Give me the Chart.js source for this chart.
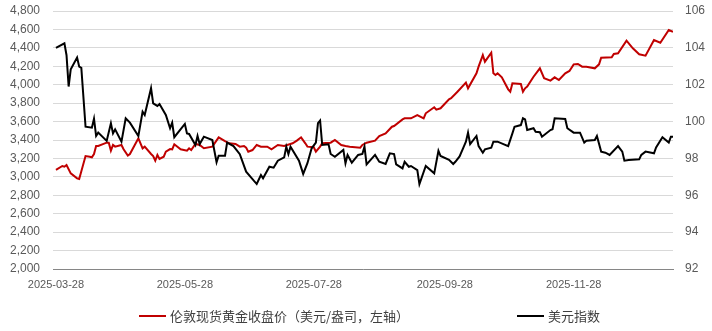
<!DOCTYPE html>
<html>
<head>
    <meta charset="utf-8">
    <title>伦敦金与美元指数</title>
    <script src="https://cdn.jsdelivr.net/npm/chart.js"></script>
    <style>
        body { margin: 0; background: #fff; }
        #wrap { position: relative; width: 712px; height: 331px; }
        #legend { position: absolute; left: 0; top: 307px; width: 712px; height: 20px;
                  font: 13px "Noto Sans CJK SC", sans-serif; color: #404040; }
        .item { position: absolute; top: 0; white-space: nowrap; line-height: 18px; }
        .swatch { display: inline-block; width: 27px; height: 2px; vertical-align: middle; margin-right: 4px; position: relative; top: -1px; }
    </style>
</head>
<body>
<div id="wrap">
    <canvas id="chart"></canvas>
    <div id="legend"></div>
</div>
<script>
    const seriesNames = ['伦敦现货黄金收盘价（美元/盎司，左轴）', '美元指数'];
    const xTickDates = ['2025-03-28', '2025-05-28', '2025-07-28', '2025-09-28', '2025-11-28'];

    const goldDates = [
        '2025-03-28', '2025-03-31', '2025-04-01', '2025-04-02', '2025-04-04', '2025-04-07', '2025-04-08',
        '2025-04-11', '2025-04-13', '2025-04-14', '2025-04-15', '2025-04-16', '2025-04-17', '2025-04-21',
        '2025-04-22', '2025-04-23', '2025-04-24', '2025-04-25', '2025-04-28', '2025-04-29', '2025-05-01',
        '2025-05-02', '2025-05-06', '2025-05-08', '2025-05-09', '2025-05-12', '2025-05-13', '2025-05-14',
        '2025-05-15', '2025-05-16', '2025-05-18', '2025-05-19', '2025-05-21', '2025-05-22', '2025-05-23',
        '2025-05-26', '2025-05-29', '2025-05-30', '2025-05-31', '2025-06-02', '2025-06-04', '2025-06-06',
        '2025-06-10', '2025-06-13', '2025-06-16', '2025-06-18', '2025-06-21', '2025-06-23', '2025-06-25',
        '2025-06-26', '2025-06-27', '2025-06-29', '2025-07-01', '2025-07-03', '2025-07-06', '2025-07-08',
        '2025-07-11', '2025-07-14', '2025-07-18', '2025-07-20', '2025-07-22', '2025-07-24', '2025-07-25',
        '2025-07-28', '2025-07-29', '2025-07-31', '2025-08-01', '2025-08-05', '2025-08-07', '2025-08-10',
        '2025-08-12', '2025-08-14', '2025-08-19', '2025-08-20', '2025-08-22', '2025-08-26', '2025-08-28',
        '2025-08-31', '2025-09-03', '2025-09-04', '2025-09-08', '2025-09-09', '2025-09-12', '2025-09-15',
        '2025-09-18', '2025-09-19', '2025-09-23', '2025-09-24', '2025-09-26', '2025-09-30', '2025-10-01',
        '2025-10-04', '2025-10-08', '2025-10-09', '2025-10-13', '2025-10-14', '2025-10-16', '2025-10-17',
        '2025-10-20', '2025-10-21', '2025-10-22', '2025-10-23', '2025-10-25', '2025-10-28', '2025-10-29',
        '2025-10-30', '2025-11-03', '2025-11-04', '2025-11-05', '2025-11-06', '2025-11-09', '2025-11-12',
        '2025-11-14', '2025-11-17', '2025-11-19', '2025-11-21', '2025-11-24', '2025-11-26', '2025-11-28',
        '2025-11-30', '2025-12-02', '2025-12-04', '2025-12-08', '2025-12-10', '2025-12-11', '2025-12-16',
        '2025-12-17', '2025-12-19', '2025-12-23', '2025-12-26', '2025-12-29', '2026-01-01', '2026-01-05',
        '2026-01-08', '2026-01-12', '2026-01-14'
    ];
    const goldValues = [
        3075, 3118, 3110, 3129, 3038, 2984, 2977,
        3226, 3219, 3212, 3248, 3335, 3335, 3371,
        3371, 3284, 3346, 3328, 3346, 3299, 3230,
        3248, 3418, 3310, 3328, 3248, 3226, 3175,
        3237, 3194, 3219, 3273, 3302, 3299, 3353,
        3299, 3284, 3310, 3291, 3357, 3346, 3310,
        3328, 3429, 3389, 3364, 3357, 3328, 3335,
        3317, 3273, 3291, 3346, 3328, 3328, 3299,
        3346, 3335, 3364, 3393, 3429, 3364, 3328,
        3321, 3273, 3328, 3364, 3371, 3400, 3346,
        3335, 3328, 3317, 3346, 3371, 3393, 3443,
        3472, 3544, 3552, 3624, 3635, 3635, 3671,
        3635, 3690, 3755, 3730, 3744, 3842, 3853,
        3924, 4022, 3961, 4124, 4196, 4322, 4250,
        4348, 4124, 4105, 4124, 4080, 3950, 3924,
        4015, 4008, 3924, 3961, 3979, 4087, 4178,
        4070, 4044, 4080, 4051, 4124, 4149, 4221,
        4225, 4196, 4196, 4178, 4221, 4293, 4297,
        4333, 4341, 4478, 4395, 4330, 4315, 4485,
        4456, 4594, 4575
    ];

    const dxyDates = [
        '2025-03-28', '2025-04-01', '2025-04-02', '2025-04-03', '2025-04-04', '2025-04-07', '2025-04-08',
        '2025-04-09', '2025-04-11', '2025-04-14', '2025-04-15', '2025-04-16', '2025-04-17', '2025-04-21',
        '2025-04-23', '2025-04-24', '2025-04-25', '2025-04-28', '2025-04-30', '2025-05-02', '2025-05-06',
        '2025-05-08', '2025-05-09', '2025-05-12', '2025-05-13', '2025-05-15', '2025-05-16', '2025-05-19',
        '2025-05-21', '2025-05-22', '2025-05-23', '2025-05-28', '2025-05-29', '2025-05-30', '2025-06-02',
        '2025-06-03', '2025-06-04', '2025-06-06', '2025-06-10', '2025-06-12', '2025-06-13', '2025-06-16',
        '2025-06-17', '2025-06-20', '2025-06-23', '2025-06-26', '2025-07-01', '2025-07-03', '2025-07-04',
        '2025-07-07', '2025-07-09', '2025-07-11', '2025-07-14', '2025-07-15', '2025-07-16', '2025-07-17',
        '2025-07-21', '2025-07-23', '2025-07-25', '2025-07-27', '2025-07-29', '2025-07-30', '2025-07-31',
        '2025-08-01', '2025-08-04', '2025-08-05', '2025-08-07', '2025-08-11', '2025-08-12', '2025-08-13',
        '2025-08-15', '2025-08-18', '2025-08-20', '2025-08-21', '2025-08-22', '2025-08-26', '2025-08-28',
        '2025-08-31', '2025-09-02', '2025-09-04', '2025-09-05', '2025-09-08', '2025-09-09', '2025-09-11',
        '2025-09-12', '2025-09-15', '2025-09-16', '2025-09-19', '2025-09-23', '2025-09-25', '2025-09-26',
        '2025-09-30', '2025-10-02', '2025-10-03', '2025-10-05', '2025-10-07', '2025-10-08', '2025-10-09',
        '2025-10-10', '2025-10-13', '2025-10-14', '2025-10-16', '2025-10-17', '2025-10-20', '2025-10-21',
        '2025-10-23', '2025-10-28', '2025-10-30', '2025-10-31', '2025-11-03', '2025-11-04', '2025-11-05',
        '2025-11-06', '2025-11-09', '2025-11-10', '2025-11-12', '2025-11-13', '2025-11-17', '2025-11-18',
        '2025-11-19', '2025-11-24', '2025-11-25', '2025-11-28', '2025-12-01', '2025-12-03', '2025-12-04',
        '2025-12-08', '2025-12-09', '2025-12-11', '2025-12-13', '2025-12-15', '2025-12-19', '2025-12-21',
        '2025-12-22', '2025-12-24', '2025-12-29', '2025-12-30', '2026-01-01', '2026-01-05', '2026-01-06',
        '2026-01-09', '2026-01-12', '2026-01-13', '2026-01-14'
    ];
    const dxyValues = [
        104.00, 104.25, 103.60, 101.90, 102.84, 103.47, 102.98,
        102.92, 99.72, 99.67, 100.16, 99.22, 99.40, 98.95,
        99.91, 99.36, 99.58, 98.91, 100.18, 99.94, 99.22,
        100.54, 100.36, 101.81, 100.99, 100.85, 100.95, 100.36,
        99.64, 99.94, 99.15, 99.87, 99.36, 99.33, 98.73,
        99.22, 98.78, 99.18, 99.00, 97.79, 98.15, 98.15,
        98.86, 98.67, 98.23, 97.28, 96.61, 97.10, 96.92,
        97.55, 97.50, 97.88, 98.06, 98.64, 98.24, 98.64,
        97.88, 97.16, 97.74, 98.55, 98.86, 99.91, 100.05,
        98.73, 98.77, 98.24, 98.09, 98.46, 97.74, 98.19,
        97.77, 98.19, 98.24, 98.64, 97.68, 98.19, 97.82,
        97.70, 98.28, 98.24, 97.68, 97.46, 97.82, 97.55,
        97.59, 97.37, 96.61, 97.59, 97.19, 98.41, 98.13,
        97.93, 97.70, 97.82, 98.11, 98.64, 98.91, 99.40,
        98.78, 99.22, 98.67, 98.31, 98.49, 98.58, 98.91,
        98.91, 98.67, 99.36, 99.72, 99.81, 100.18, 100.12,
        99.54, 99.64, 99.45, 99.42, 99.18, 99.54, 99.58,
        100.18, 100.14, 99.64, 99.40, 99.40, 98.86, 98.96,
        99.00, 99.22, 98.37, 98.31, 98.19, 98.67, 98.37,
        97.88, 97.92, 97.95, 98.19, 98.37, 98.28, 98.60,
        99.15, 98.86, 99.18, 99.18
    ];

    // day offset from the first date, so the x axis can be a plain linear scale
    function dayNum(s) {
        const p = s.split('-').map(Number);
        return (Date.UTC(p[0], p[1] - 1, p[2]) - Date.UTC(2025, 2, 28)) / 86400000;
    }
    function toPoints(dates, values) {
        return dates.map((d, i) => ({ x: dayNum(d), y: values[i] }));
    }

    const colors = ['#C00000', '#000000'];
    const tickFont = { family: 'Liberation Sans, Arial, sans-serif', size: 12 };
    const tickColor = '#595959';

    // fixed axis sizes so the plot area sits where the original one does
    function fixWidth(w) {
        return (scale) => {
            scale.width = w;
            scale.paddingTop = 0;
            scale.paddingBottom = 0;
        };
    }

    const ctx = document.getElementById('chart').getContext('2d');
    const chart = new Chart(ctx, {
        type: 'line',
        data: {
            datasets: [{
                label: seriesNames[0],
                data: toPoints(goldDates, goldValues),
                borderColor: colors[0],
                borderWidth: 2,
                pointRadius: 0,
                tension: 0,
                yAxisID: 'y',
                order: 1
            }, {
                label: seriesNames[1],
                data: toPoints(dxyDates, dxyValues),
                borderColor: colors[1],
                borderWidth: 2,
                pointRadius: 0,
                tension: 0,
                yAxisID: 'y1',
                order: 0
            }]
        },
        options: {
            responsive: true,
            maintainAspectRatio: false,
            animation: false,
            layout: { padding: { top: 11, bottom: 42, left: 0, right: 0 } },
            plugins: {
                legend: { display: false },
                tooltip: { enabled: false }
            },
            scales: {
                x: {
                    type: 'linear',
                    min: -1.4,
                    max: 292,
                    grid: { display: false, drawTicks: false },
                    border: { display: true, color: '#868686', width: 1 },
                    afterBuildTicks: (scale) => {
                        scale.ticks = xTickDates.map(s => ({ value: dayNum(s) }));
                    },
                    afterFit: (scale) => {
                        scale.height = 20;
                        scale.paddingLeft = 0;
                        scale.paddingRight = 0;
                    },
                    ticks: {
                        autoSkip: false,
                        maxRotation: 0,
                        padding: 9,
                        color: tickColor,
                        font: { family: tickFont.family, size: 11 },
                        callback: (v) => {
                            const s = xTickDates.find(d => dayNum(d) === v);
                            return s || '';
                        }
                    }
                },
                y: {
                    position: 'left',
                    min: 2000,
                    max: 4800,
                    grid: { color: '#D9D9D9', drawTicks: false },
                    border: { display: false },
                    afterFit: fixWidth(53),
                    ticks: {
                        stepSize: 200,
                        padding: 13,
                        color: tickColor,
                        font: tickFont,
                        callback: (v) => v.toLocaleString('en-US')
                    }
                },
                y1: {
                    position: 'right',
                    min: 92,
                    max: 106,
                    grid: { display: false, drawTicks: false },
                    border: { display: false },
                    afterFit: fixWidth(39),
                    ticks: {
                        stepSize: 2,
                        padding: 12,
                        color: tickColor,
                        font: tickFont
                    }
                }
            }
        }
    });

    // legend as html text below the chart
    const legendPos = [139, 517];
    const legend = document.getElementById('legend');
    seriesNames.forEach((name, i) => {
        const item = document.createElement('div');
        item.className = 'item';
        item.style.left = legendPos[i] + 'px';
        item.innerHTML = '<span class="swatch" style="background:' + colors[i] + '"></span>' + name;
        legend.appendChild(item);
    });
</script>
</body>
</html>
